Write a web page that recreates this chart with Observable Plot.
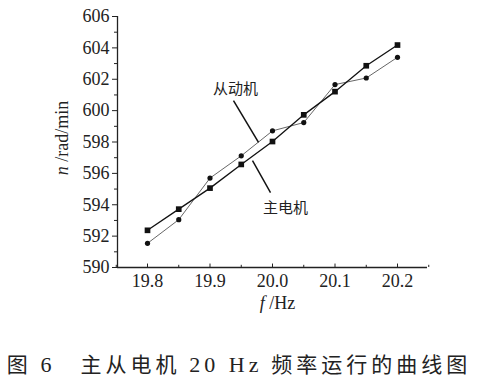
<!DOCTYPE html>
<html>
<head>
<meta charset="utf-8">
<script src="https://cdn.jsdelivr.net/npm/d3@7"></script>
<script src="https://cdn.jsdelivr.net/npm/@observablehq/plot@0.6"></script>
<style>
  body { margin: 0; background: #fff; }
  #caption { font-family: "Noto Sans CJK SC", sans-serif; font-size: 21px; letter-spacing: 4px; color: #222;
             margin-top: 35px; text-align: center; white-space: pre; line-height: 26px; }
  #caption .num { font-family: "Liberation Serif", serif; font-size: 22px; }
</style>
</head>
<body>
<div id="chart"></div>
<div id="caption">图 <span class="num">6</span>　主从电机 <span class="num">20 Hz</span> 频率运行的曲线图</div>
<script>
const freq = [19.8, 19.85, 19.9, 19.95, 20.0, 20.05, 20.1, 20.15, 20.2];
const masterSpeed = [592.37, 593.72, 595.06, 596.57, 598.03, 599.73, 601.21, 602.86, 604.18];
const slaveSpeed  = [591.54, 593.05, 595.70, 597.12, 598.71, 599.24, 601.66, 602.08, 603.40];
const xMajorTicks = [19.8, 19.9, 20.0, 20.1, 20.2];
const xMinorTicks = [19.75, 19.85, 19.95, 20.05, 20.15, 20.25];
const yMajorTicks = [590, 592, 594, 596, 598, 600, 602, 604, 606];
const yMinorTicks = [591, 593, 595, 597, 599, 601, 603, 605];
const xDomain = [19.752, 20.248];
const yDomain = [590, 606];
// annotation labels and leader lines (data coordinates)
const annoLabels = [
  {text: "从动机", x: 19.9408, y: 601.34},
  {text: "主电机", x: 20.0208, y: 593.77}
];
const annoLines = [
  {x1: 19.9376, y1: 600.64, x2: 19.9776, y2: 597.97},
  {x1: 19.9968, y1: 594.78, x2: 19.968, y2: 596.82}
];

const master = freq.map((f, i) => ({f, n: masterSpeed[i]}));
const slave = freq.map((f, i) => ({f, n: slaveSpeed[i]}));

const chart = Plot.plot({
  width: 478,
  height: 315,
  marginLeft: 117,
  marginRight: 51,
  marginTop: 16,
  marginBottom: 48,
  style: {fontFamily: "Liberation Serif, serif", fontSize: "18px", color: "#222", background: "#fff"},
  x: {domain: xDomain},
  y: {domain: yDomain},
  marks: [
    // axis lines
    Plot.ruleY([yDomain[0]], {stroke: "#222", strokeWidth: 1.3}),
    Plot.ruleX([xDomain[0]], {stroke: "#222", strokeWidth: 1.3}),
    // y ticks (outward)
    Plot.axisY({ticks: yMajorTicks, tickSize: 5, tickPadding: 3, tickFormat: d3.format("d"), label: null, fontSize: 18, stroke: "#222"}),
    Plot.axisY({ticks: yMinorTicks, tickSize: 3, tickFormat: () => "", label: null, stroke: "#222"}),
    // x ticks (inward)
    Plot.ruleX(xMajorTicks, {y1: yDomain[0], y2: yDomain[0] + 0.22, stroke: "#222"}),
    Plot.ruleX(xMinorTicks, {y1: yDomain[0], y2: yDomain[0] + 0.14, stroke: "#222"}),
    Plot.axisX({ticks: xMajorTicks, tickSize: 0, tickPadding: 7, tickFormat: d3.format(".1f"), label: null, fontSize: 18}),
    // data
    Plot.line(slave, {x: "f", y: "n", stroke: "#555", strokeWidth: 0.9}),
    Plot.line(master, {x: "f", y: "n", stroke: "#111", strokeWidth: 1.3}),
    Plot.dot(slave, {x: "f", y: "n", r: 2.6, fill: "#111", symbol: "circle"}),
    Plot.dot(master, {x: "f", y: "n", r: 3.2, fill: "#111", symbol: "square"}),
    // annotations
    Plot.link(annoLines, {x1: "x1", y1: "y1", x2: "x2", y2: "y2", stroke: "#111", strokeWidth: 1.5}),
    Plot.text(annoLabels, {x: "x", y: "y", text: "text", fontFamily: "Noto Sans CJK SC, sans-serif", fontSize: 15, fill: "#222"}),
    // axis titles
    Plot.text(["ylabel"], {frameAnchor: "left", textAnchor: "middle", lineAnchor: "middle", dx: -55, dy: -4, rotate: -90, text: d => d, className: "ylab"}),
    Plot.text(["xlabel"], {frameAnchor: "bottom", textAnchor: "middle", lineAnchor: "middle", dx: 5, dy: 36, text: d => d, className: "xlab"})
  ]
});
document.getElementById("chart").appendChild(chart);

// rich axis titles with italic variable names
const svg = d3.select(chart);
function richLabel(sel, italic, rest) {
  const t = sel.select("text");
  t.text(null).attr("font-size", 18);
  t.append("tspan").attr("font-style", "italic").text(italic);
  t.append("tspan").text(rest);
}
richLabel(svg.select("g.ylab"), "n", " /rad/min");
richLabel(svg.select("g.xlab"), "f", " /Hz");
</script>
</body>
</html>
